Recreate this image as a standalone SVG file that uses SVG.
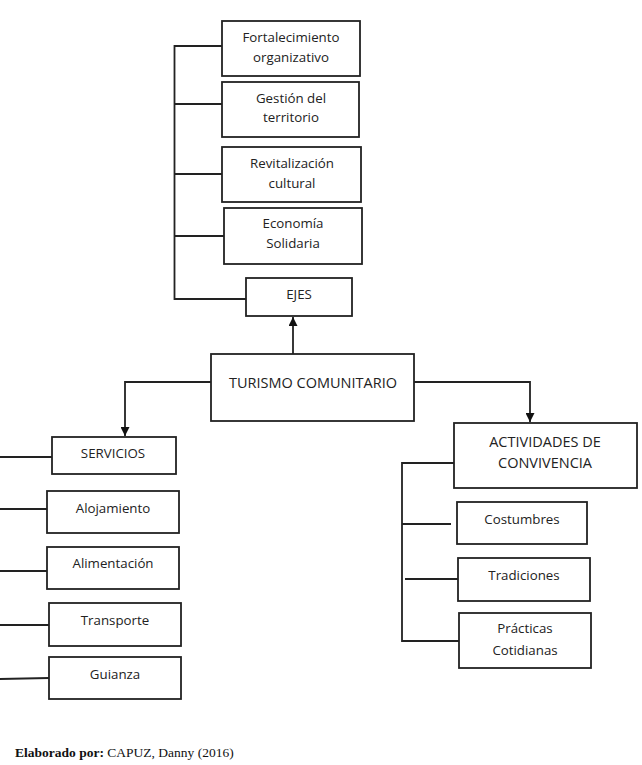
<svg xmlns="http://www.w3.org/2000/svg" width="642" height="765" viewBox="0 0 642 765">
<style>
.box{fill:#fff;stroke:#222;stroke-width:1.8}
.t{font-family:"Open Sans","Liberation Sans",sans-serif;font-size:13.3px;fill:#222;text-anchor:middle;dominant-baseline:central}
.tl{font-size:14.5px}
.c{fill:none;stroke:#222;stroke-width:1.8}
.f{font-family:"Liberation Serif",serif;font-size:13.5px;fill:#111}
</style>
<defs>
<marker id="ah" viewBox="0 0 10 10" refX="10" refY="5" markerWidth="9" markerHeight="9" markerUnits="userSpaceOnUse" orient="auto">
<path d="M0,0 L10,5 L0,10 z" fill="#111"/>
</marker>
</defs>
<rect width="642" height="765" fill="#fff"/>
<g id="connectors">
<polyline class="c" points="222,46 174.5,46 174.5,299 246,299"/>
<line class="c" x1="174.5" y1="104" x2="222" y2="104"/>
<line class="c" x1="174.5" y1="174" x2="222" y2="174"/>
<line class="c" x1="174.5" y1="236" x2="224" y2="236"/>
<line class="c" x1="293" y1="354" x2="293" y2="317" marker-end="url(#ah)"/>
<polyline class="c" points="211,382 125,382 125,436" marker-end="url(#ah)"/>
<polyline class="c" points="414,382 530,382 530,422" marker-end="url(#ah)"/>
<line class="c" x1="0" y1="457" x2="52" y2="457"/>
<line class="c" x1="0" y1="509" x2="47" y2="509"/>
<line class="c" x1="0" y1="571" x2="47" y2="571"/>
<line class="c" x1="0" y1="625" x2="49" y2="625"/>
<line class="c" x1="0" y1="679" x2="49" y2="678"/>
<polyline class="c" points="454,463 402,463 402,641 459,641"/>
<line class="c" x1="402" y1="524" x2="451" y2="524"/>
<line class="c" x1="405" y1="579" x2="458" y2="579"/>
</g>
<g id="fortalecimiento"><rect class="box" x="222" y="21" width="138" height="55"/><text class="t" x="291" y="37">Fortalecimiento</text><text class="t" x="291" y="57">organizativo</text></g>
<g id="gestion"><rect class="box" x="222" y="82" width="137" height="55"/><text class="t" x="291" y="98">Gestión del</text><text class="t" x="291" y="117">territorio</text></g>
<g id="revitalizacion"><rect class="box" x="222" y="147" width="139" height="55"/><text class="t" x="292" y="163">Revitalización</text><text class="t" x="292" y="183">cultural</text></g>
<g id="economia"><rect class="box" x="224" y="208" width="138" height="56"/><text class="t" x="293" y="223">Economía</text><text class="t" x="293" y="243">Solidaria</text></g>
<g id="ejes"><rect class="box" x="246" y="278" width="106" height="38"/><text class="t" x="299" y="294">EJES</text></g>
<g id="turismo"><rect class="box" x="211" y="354" width="203" height="67"/><text class="t tl" x="313" y="382">TURISMO COMUNITARIO</text></g>
<g id="servicios"><rect class="box" x="52" y="437" width="124" height="37"/><text class="t" x="113" y="453">SERVICIOS</text></g>
<g id="alojamiento"><rect class="box" x="47" y="491" width="132" height="42"/><text class="t" x="113" y="508">Alojamiento</text></g>
<g id="alimentacion"><rect class="box" x="47" y="547" width="132" height="42"/><text class="t" x="113" y="563">Alimentación</text></g>
<g id="transporte"><rect class="box" x="49" y="603" width="132" height="43"/><text class="t" x="115" y="620">Transporte</text></g>
<g id="guianza"><rect class="box" x="49" y="657" width="132" height="42"/><text class="t" x="115" y="674">Guianza</text></g>
<g id="actividades"><rect class="box" x="454" y="423" width="183" height="65"/><text class="t tl" x="545" y="441">ACTIVIDADES DE</text><text class="t tl" x="545" y="462">CONVIVENCIA</text></g>
<g id="costumbres"><rect class="box" x="457" y="502" width="130" height="42"/><text class="t" x="522" y="519">Costumbres</text></g>
<g id="tradiciones"><rect class="box" x="458" y="558" width="132" height="43"/><text class="t" x="524" y="575">Tradiciones</text></g>
<g id="practicas"><rect class="box" x="459" y="613" width="132" height="55"/><text class="t" x="525" y="628">Prácticas</text><text class="t" x="525" y="650">Cotidianas</text></g>
<text class="f" x="15" y="757"><tspan font-weight="bold">Elaborado por:</tspan> CAPUZ, Danny (2016)</text>
</svg>
